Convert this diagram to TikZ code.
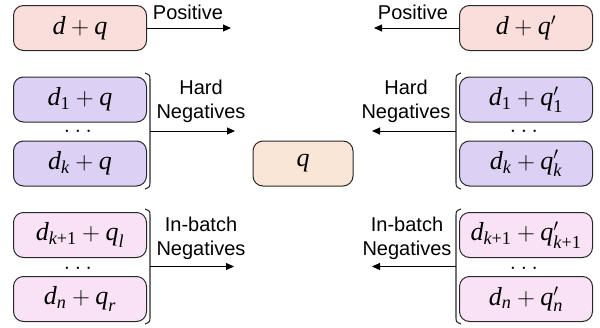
\documentclass[tikz,border=0pt]{standalone}
\usepackage{amsmath}
\usepackage{fontspec}
\newfontfamily\labfont{Liberation Sans}
\newfontfamily\mathserif{Liberation Serif}
\newcommand\vi[1]{\text{\mathserif\itshape #1}}
\newcommand\vu[1]{\text{\mathserif #1}}
\usetikzlibrary{arrows.meta}
\definecolor{pospink}{RGB}{250,222,219}
\definecolor{hardpurple}{RGB}{220,208,245}
\definecolor{batchpink}{RGB}{249,226,245}
\definecolor{qpeach}{RGB}{250,230,214}
\definecolor{edge}{RGB}{40,40,40}
\begin{document}
\begin{tikzpicture}[x=1pt,y=-1pt,
  box/.style={draw=edge,line width=1pt,rounded corners=10pt,minimum width=133pt,minimum height=45pt,inner sep=0pt,font=\fontsize{26}{30}\selectfont},
  dotsnode/.style={inner sep=0pt,font=\fontsize{26}{30}\selectfont},
  lab/.style={inner sep=0pt,align=center,font=\labfont\fontsize{20}{24}\selectfont},
  arr/.style={line width=1pt,-{Triangle[length=8pt,width=7pt]}},
  brk/.style={line width=1.1pt,edge}]
\useasboundingbox (0,0) rectangle (600,327);
% left column
\node[box,fill=pospink] (pq) at (80,28) {$\vi{d}+\vi{q}$};
\node[box,fill=hardpurple] (h1) at (80,99.5) {$\vi{d}_{\vu{1}}+\vi{q}$};
\node[dotsnode] (hd) at (80,131) {$\dots$};
\node[box,fill=hardpurple] (hk) at (80,163.5) {$\vi{d}_{\vi{k}}+\vi{q}$};
\node[box,fill=batchpink] (b1) at (80,235) {$\vi{d}_{\vi{k}\vu{+1}}+\vi{q}_{\vi{l}}$};
\node[dotsnode] (bd) at (80,268) {$\dots$};
\node[box,fill=batchpink] (bn) at (80,299) {$\vi{d}_{\vi{n}}+\vi{q}_{\vi{r}}$};
% right column
\node[box,fill=pospink] (rpq) at (526,28) {$\vi{d}+\vi{q}'$};
\node[box,fill=hardpurple] (rh1) at (526,99.5) {$\vi{d}_{\vu{1}}+\vi{q}'_{\vu{1}}$};
\node[dotsnode] (rhd) at (526,131) {$\dots$};
\node[box,fill=hardpurple] (rhk) at (526,163.5) {$\vi{d}_{\vi{k}}+\vi{q}'_{\vi{k}}$};
\node[box,fill=batchpink] (rb1) at (526,235) {$\vi{d}_{\vi{k}\vu{+1}}+\vi{q}'_{\vi{k}\vu{+1}}$};
\node[dotsnode] (rbd) at (526,268) {$\dots$};
\node[box,fill=batchpink] (rbn) at (526,299) {$\vi{d}_{\vi{n}}+\vi{q}'_{\vi{n}}$};
% center
\node[box,fill=qpeach,minimum width=100pt] (q) at (303,163.5) {$\vi{q}$};
% brackets
\draw[brk] (145,73) .. controls (150,75) .. (150,81) -- (150,181) .. controls (150,187) .. (145,189);
\draw[brk] (145,209) .. controls (150,211) .. (150,217) -- (150,316) .. controls (150,322) .. (145,324);
\draw[brk] (461,73) .. controls (456,75) .. (456,81) -- (456,181) .. controls (456,187) .. (461,189);
\draw[brk] (461,209) .. controls (456,211) .. (456,217) -- (456,316) .. controls (456,322) .. (461,324);
\coordinate (lhm) at (150,131);
\coordinate (lbm) at (150,266.5);
\coordinate (rhm) at (456,131);
\coordinate (rbm) at (456,266.5);
\coordinate (lpe) at (231,28);
\coordinate (lhe) at (235,131);
\coordinate (lbe) at (234,266.5);
\coordinate (rpe) at (374,28);
\coordinate (rhe) at (372,131);
\coordinate (rbe) at (372,266.5);
% arrows
\draw[arr] (pq.east) -- (lpe);
\draw[arr] (lhm) -- (lhe);
\draw[arr] (lbm) -- (lbe);
\draw[arr] (rpq.west) -- (rpe);
\draw[arr] (rhm) -- (rhe);
\draw[arr] (rbm) -- (rbe);
% labels
\node[lab] (lpl) at (188,12) {Positive};
\node[lab] (rpl) at (413,12) {Positive};
\node[lab] (lhl) at (201,101) {Hard\\Negatives};
\node[lab] (rhl) at (406,101) {Hard\\Negatives};
\node[lab] (lbl) at (201,238) {In-batch\\Negatives};
\node[lab] (rbl) at (407,238) {In-batch\\Negatives};
\end{tikzpicture}
\end{document}
